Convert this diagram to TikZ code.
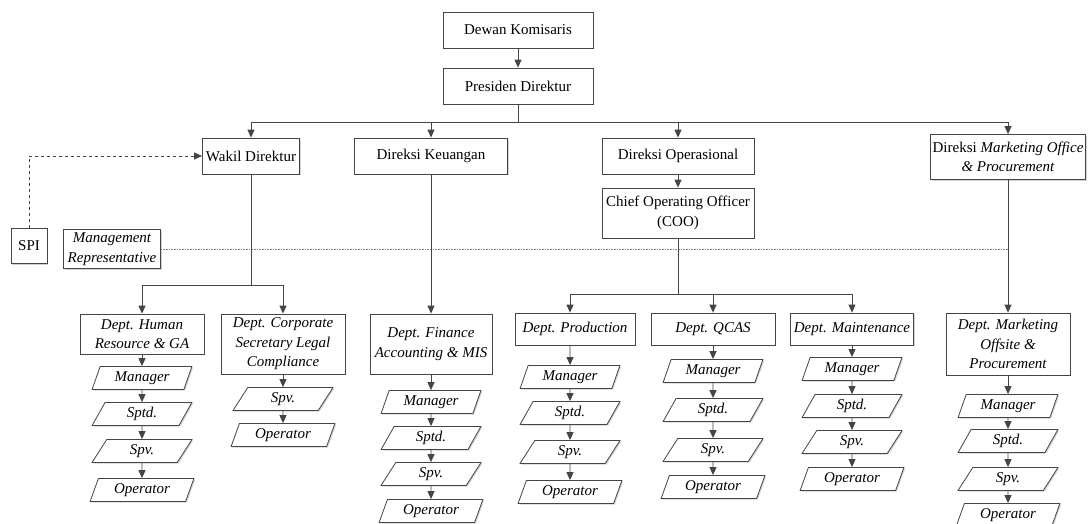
\documentclass[tikz,border=0pt]{standalone}
\usepackage{fontspec}
\setmainfont{Liberation Serif}
\usetikzlibrary{arrows.meta,shapes.geometric,shadows}
\definecolor{linegray}{HTML}{454545}
\begin{document}
\begin{tikzpicture}[x=1pt, y=-1pt,
    every node/.style={font=\fontsize{15}{19.5}\selectfont},
    shade/.style={drop shadow={shadow xshift=1.2pt, shadow yshift=-1.2pt, fill=black!35}},
    box/.style={draw=linegray, fill=white, align=center, inner sep=2pt, line width=0.8pt, shade},
    post/.style={trapezium, trapezium left angle=70, trapezium right angle=110,
        trapezium stretches=true, draw=linegray, fill=white, line width=0.8pt,
        minimum width=100, minimum height=23, inner sep=1pt,
        font=\fontsize{15}{19.5}\selectfont\itshape, shade},
    link/.style={draw=linegray, line width=0.9pt},
    arr/.style={link, -{Triangle[length=8pt, width=7pt]}},
    ]
    \path[use as bounding box, fill=white] (0,0) rectangle (1089,523);

    % Top of the chart
    \node [box, minimum width=150, minimum height=36] (dk) at (518,30) {Dewan Komisaris};
    \node [box, minimum width=150, minimum height=36] (pd) at (518,86) {Presiden Direktur};
    \draw [arr] (dk) -- (pd);

    % Directors
    \node [box, minimum width=97, minimum height=36] (wd) at (251,156) {Wakil Direktur};
    \node [box, minimum width=153, minimum height=36] (dku) at (431,156) {Direksi Keuangan};
    \node [box, minimum width=152, minimum height=36] (dop) at (678,156) {Direksi Operasional};
    \node [box, minimum width=155, minimum height=45] (dmo) at (1008,157)
        {Direksi \textit{Marketing Office}\\ \textit{\& Procurement}};
    \coordinate (bus) at (518,122);
    \draw [link] (pd) -- (bus);
    \draw [arr] (bus) -| (wd);
    \draw [arr] (bus) -| (dku);
    \draw [arr] (bus) -| (dop);
    \draw [arr] (bus) -| (dmo);

    \node [box, minimum width=152, minimum height=50] (coo) at (678,213)
        {Chief Operating Officer\\ (COO)};
    \draw [arr] (dop) -- (coo);

    % Staff units
    \node [box, minimum width=36, minimum height=35] (spi) at (29,246) {SPI};
    \node [box, minimum width=97, minimum height=39, font=\fontsize{15}{19.5}\selectfont\itshape]
        (mr) at (112,249) {Management\\ Representative};
    \draw [arr, dashed] (spi) |- (wd);
    \coordinate (mre) at (1008,249);
    \draw [densely dotted, gray, line width=0.6pt] (mr) -- (mre);

    % Departments
    \node [box, minimum width=124, minimum height=40, font=\fontsize{15}{19.5}\selectfont\itshape]
        (hr) at (142,334) {Dept. Human\\ Resource \& GA};
    \node [box, minimum width=124, minimum height=60, font=\fontsize{15}{19.5}\selectfont\itshape]
        (csl) at (283,344) {Dept. Corporate\\ Secretary Legal\\ Compliance};
    \node [box, minimum width=122, minimum height=60, font=\fontsize{15}{19.5}\selectfont\itshape]
        (fin) at (431,344) {Dept. Finance\\ Accounting \& MIS};
    \node [box, minimum width=120, minimum height=32, font=\fontsize{15}{19.5}\selectfont\itshape]
        (prd) at (575,329) {Dept. Production};
    \node [box, minimum width=124, minimum height=32, font=\fontsize{15}{19.5}\selectfont\itshape]
        (qc) at (713,329) {Dept. QCAS};
    \node [box, minimum width=123, minimum height=32, font=\fontsize{15}{19.5}\selectfont\itshape]
        (mt) at (852,329) {Dept. Maintenance};
    \node [box, minimum width=124, minimum height=62, font=\fontsize{15}{19.5}\selectfont\itshape]
        (mkt) at (1008,344) {Dept. Marketing\\ Offsite \&\\ Procurement};

    \coordinate (wbus) at (251,285);
    \draw [link] (wd) -- (wbus);
    \draw [arr] (wbus) -| (hr);
    \draw [arr] (wbus) -| (csl);
    \draw [arr] (dku) -- (fin);
    \coordinate (cbus) at (678,294);
    \draw [link] (coo) -- (cbus);
    \coordinate (pbus) at (570,294);
    \draw [arr] (cbus) -- (pbus) -- (pbus |- prd.north);
    \draw [arr] (cbus) -| (qc);
    \draw [arr] (cbus) -| (mt);
    \draw [arr] (dmo) -- (mkt);

    % Human Resource
    \node [post] (hrm) at (142,378) {Manager};
    \node [post] (hrs) at (142,414) {Sptd.};
    \node [post] (hrv) at (142,451) {Spv.};
    \node [post, minimum width=104] (hro) at (142,490) {Operator};
    \draw [arr] (hr) -- (hrm);
    \draw [arr] (hrm) -- (hrs);
    \draw [arr] (hrs) -- (hrv);
    \draw [arr] (hrv) -- (hro);

    % Corporate Secretary
    \node [post] (cslv) at (283,399) {Spv.};
    \node [post, minimum width=104] (cslo) at (283,435) {Operator};
    \draw [arr] (csl) -- (cslv);
    \draw [arr] (cslv) -- (cslo);

    % Finance
    \node [post] (finm) at (431,402) {Manager};
    \node [post] (fins) at (431,438) {Sptd.};
    \node [post] (finv) at (431,474) {Spv.};
    \node [post, minimum width=104] (fino) at (431,511) {Operator};
    \draw [arr] (fin) -- (finm);
    \draw [arr] (finm) -- (fins);
    \draw [arr] (fins) -- (finv);
    \draw [arr] (finv) -- (fino);

    % Production
    \node [post] (prdm) at (570,377) {Manager};
    \node [post] (prds) at (570,413) {Sptd.};
    \node [post] (prdv) at (570,452) {Spv.};
    \node [post, minimum width=104] (prdo) at (570,492) {Operator};
    \draw [arr] (prdm |- prd.south) -- (prdm);
    \draw [arr] (prdm) -- (prds);
    \draw [arr] (prds) -- (prdv);
    \draw [arr] (prdv) -- (prdo);

    % QCAS
    \node [post] (qcm) at (713,371) {Manager};
    \node [post] (qcs) at (713,410) {Sptd.};
    \node [post] (qcv) at (713,450) {Spv.};
    \node [post, minimum width=104] (qco) at (713,487) {Operator};
    \draw [arr] (qc) -- (qcm);
    \draw [arr] (qcm) -- (qcs);
    \draw [arr] (qcs) -- (qcv);
    \draw [arr] (qcv) -- (qco);

    % Maintenance
    \node [post] (mtm) at (852,369) {Manager};
    \node [post] (mts) at (852,406) {Sptd.};
    \node [post] (mtv) at (852,442) {Spv.};
    \node [post, minimum width=104] (mto) at (852,479) {Operator};
    \draw [arr] (mt) -- (mtm);
    \draw [arr] (mtm) -- (mts);
    \draw [arr] (mts) -- (mtv);
    \draw [arr] (mtv) -- (mto);

    % Marketing
    \node [post] (mktm) at (1008,406) {Manager};
    \node [post] (mkts) at (1008,441) {Sptd.};
    \node [post] (mktv) at (1008,479) {Spv.};
    \node [post, minimum width=104] (mkto) at (1008,515) {Operator};
    \draw [arr] (mkt) -- (mktm);
    \draw [arr] (mktm) -- (mkts);
    \draw [arr] (mkts) -- (mktv);
    \draw [arr] (mktv) -- (mkto);
\end{tikzpicture}
\end{document}
